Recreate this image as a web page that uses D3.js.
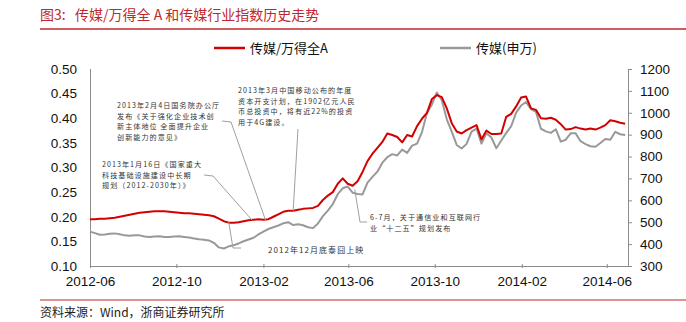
<!DOCTYPE html>
<html><head><meta charset="utf-8">
<script src="https://cdn.jsdelivr.net/npm/d3@7"></script>
<style>
html,body{margin:0;padding:0;background:#fff;}
svg{display:block;}
</style></head>
<body>
<svg id="chart" width="686" height="322"></svg>
<script>
// ---- Data (weekly) ----
const dates = [
"2012-06-01","2012-06-08","2012-06-15","2012-06-22","2012-06-29","2012-07-06","2012-07-13","2012-07-20","2012-07-27","2012-08-03",
"2012-08-10","2012-08-17","2012-08-24","2012-08-31","2012-09-07","2012-09-14","2012-09-21","2012-09-28","2012-10-05","2012-10-12",
"2012-10-19","2012-10-26","2012-11-02","2012-11-09","2012-11-16","2012-11-23","2012-11-30","2012-12-07","2012-12-14","2012-12-21",
"2012-12-28","2013-01-04","2013-01-11","2013-01-18","2013-01-25","2013-02-01","2013-02-08","2013-02-15","2013-02-22","2013-03-01",
"2013-03-08","2013-03-15","2013-03-22","2013-03-29","2013-04-05","2013-04-12","2013-04-19","2013-04-26","2013-05-03","2013-05-10",
"2013-05-17","2013-05-24","2013-05-31","2013-06-07","2013-06-14","2013-06-21","2013-06-28","2013-07-05","2013-07-12","2013-07-19",
"2013-07-26","2013-08-02","2013-08-09","2013-08-16","2013-08-23","2013-08-30","2013-09-06","2013-09-13","2013-09-20","2013-09-27",
"2013-10-04","2013-10-11","2013-10-18","2013-10-25","2013-11-01","2013-11-08","2013-11-15","2013-11-22","2013-11-29","2013-12-06",
"2013-12-13","2013-12-20","2013-12-27","2014-01-03","2014-01-10","2014-01-17","2014-01-24","2014-01-31","2014-02-07","2014-02-14",
"2014-02-21","2014-02-28","2014-03-07","2014-03-14","2014-03-21","2014-03-28","2014-04-04","2014-04-11","2014-04-18","2014-04-25",
"2014-05-02","2014-05-09","2014-05-16","2014-05-23","2014-05-30","2014-06-06","2014-06-13","2014-06-20","2014-06-27"
];
// 传媒/万得全A (left axis)
const ratio = [
0.195,0.195,0.196,0.196,0.197,0.198,0.200,0.202,0.204,0.206,
0.208,0.209,0.210,0.211,0.211,0.211,0.210,0.209,0.208,0.207,
0.207,0.206,0.205,0.204,0.203,0.201,0.196,0.191,0.188,0.188,
0.189,0.191,0.193,0.194,0.195,0.194,0.195,0.200,0.205,0.210,
0.212,0.212,0.214,0.216,0.217,0.218,0.222,0.234,0.243,0.250,
0.267,0.278,0.267,0.263,0.272,0.291,0.313,0.328,0.340,0.352,
0.369,0.366,0.362,0.351,0.366,0.363,0.384,0.399,0.411,0.439,
0.447,0.443,0.420,0.390,0.373,0.369,0.376,0.381,0.386,0.357,
0.375,0.368,0.368,0.369,0.403,0.409,0.424,0.442,0.444,0.420,
0.417,0.400,0.399,0.401,0.397,0.388,0.377,0.378,0.382,0.379,
0.377,0.379,0.377,0.381,0.386,0.396,0.394,0.391,0.389
];
// 传媒(申万) (right axis)
const media = [
457,450,443,444,447,449,445,440,438,440,
440,435,432,435,436,433,432,435,436,433,
430,426,422,420,417,406,385,380,390,395,
403,413,421,429,444,457,469,477,485,495,
500,487,491,486,477,473,494,528,553,583,
628,655,663,635,629,627,681,707,731,772,
797,811,805,832,817,850,859,912,999,1038,
1093,1057,970,914,853,837,858,914,928,859,
906,887,838,873,908,939,1001,1033,1049,1017,
1004,927,915,908,925,868,877,906,906,870,
857,847,845,862,880,877,913,902,898
];
const leftTicks = [0.10,0.15,0.20,0.25,0.30,0.35,0.40,0.45,0.50];
const rightTicks = [300,400,500,600,700,800,900,1000,1100,1200];
const xTickLabels = ["2012-06","2012-10","2013-02","2013-06","2013-10","2014-02","2014-06"];
const seriesNames = ["传媒/万得全A","传媒(申万)"];

// ---- Layout ----
const svg = d3.select("#chart");
const X0 = 90, X1 = 628, Y0 = 69, Y1 = 266;
const parse = d3.timeParse("%Y-%m-%d");
const parseM = d3.timeParse("%Y-%m");
const x = d3.scaleTime().domain([parse("2012-06-01"), parse("2014-07-01")]).range([X0, X1]);
const yL = d3.scaleLinear().domain([0.10, 0.50]).range([Y1, Y0]);
const yR = d3.scaleLinear().domain([300, 1200]).range([Y1, Y0]);
const RED = "#d40000", GRAY = "#999999", AX = "#8c8c8c", TITLE = "#c0282d";
const sans = "'Liberation Sans', Arial, sans-serif";
const cjk = "'Noto Sans CJK SC', sans-serif";

// Title
svg.append("text").attr("x", 40).attr("y", 20).attr("fill", TITLE)
  .attr("font-family", cjk).attr("font-size", 14).style("white-space", "pre")
  .text("图3:   传媒/万得全 A 和传媒行业指数历史走势");
svg.append("line").attr("x1", 40).attr("x2", 686).attr("y1", 29).attr("y2", 29)
  .attr("stroke", TITLE).attr("stroke-width", 1.5);

// Legend
const legend = [{name: seriesNames[0], color: RED, x: 214}, {name: seriesNames[1], color: GRAY, x: 440}];
legend.forEach(l => {
  svg.append("line").attr("x1", l.x).attr("x2", l.x + 31).attr("y1", 48).attr("y2", 48)
    .attr("stroke", l.color).attr("stroke-width", 2.5);
  svg.append("text").attr("x", l.x + 36).attr("y", 53).attr("font-family", cjk)
    .attr("font-size", 13).attr("fill", "#111").text(l.name);
});

// Axes
const gL = svg.append("g").attr("transform", `translate(${X0},0)`)
  .call(d3.axisLeft(yL).tickValues(leftTicks).tickFormat(d3.format(".2f")).tickSize(0).tickPadding(13));
const gR = svg.append("g").attr("transform", `translate(${X1},0)`)
  .call(d3.axisRight(yR).tickValues(rightTicks).tickFormat(d3.format("d")).tickSize(4).tickPadding(8));
const gX = svg.append("g").attr("transform", `translate(0,${Y1})`)
  .call(d3.axisBottom(x).tickValues(xTickLabels.map(parseM)).tickFormat(d3.timeFormat("%Y-%m")).tickSize(2).tickPadding(8));
[gL, gR, gX].forEach(g => {
  g.select(".domain").attr("stroke", AX).attr("stroke-width", 1);
  g.selectAll(".tick line").attr("stroke", AX);
  g.selectAll(".tick text").attr("font-family", sans).attr("font-size", 13.5).attr("fill", "#111");
});
gX.selectAll(".tick line").attr("y1", -2).attr("y2", 2);
gX.select(".domain").attr("d", `M${X0},0.5H${X1}`);
gL.select(".domain").attr("d", `M0.5,${Y1}V${Y0}`);
gR.select(".domain").attr("d", `M0.5,${Y1}V${Y0}`);

// Lines
const data = dates.map((d, i) => ({date: parse(d), r: ratio[i], m: media[i]}));
svg.append("path").datum(data).attr("fill", "none").attr("stroke", GRAY).attr("stroke-width", 2)
  .attr("stroke-linejoin", "round")
  .attr("d", d3.line().x(d => x(d.date)).y(d => yR(d.m)));
svg.append("path").datum(data).attr("fill", "none").attr("stroke", RED).attr("stroke-width", 2)
  .attr("stroke-linejoin", "round")
  .attr("d", d3.line().x(d => x(d.date)).y(d => yL(d.r)));

// Annotations
const annots = [
  {lines: ["2013年2月4日国务院办公厅", "发布《关于强化企业技术创", "新主体地位 全面提升企业", "创新能力的意见》"],
   tx: 117, ty: 108, fs: 7.1, path: [[222, 121], [231, 122], [x(parse("2013-02-04")), yL(0.195) + 1]]},
  {lines: ["2013年1月16日《国家重大", "科技基础设施建设中长期", "规划（2012-2030年）》"],
   tx: 102, ty: 167, fs: 7.1, path: [[204, 175], [213, 176], [x(parse("2013-01-16")), yL(0.193)]]},
  {lines: ["2013年3月中国移动公布的年度", "资本开支计划，在1902亿元人民", "币总投资中，将有近22%的投资", "用于4G建设。"],
   tx: 238, ty: 93, fs: 7.1, path: [[298, 129], [x(parse("2013-03-15")), yL(0.212)]]},
  {lines: ["2012年12月底泰囧上映"],
   tx: 268, ty: 253, fs: 8, path: [[x(parse("2012-12-14")), yL(0.189)], [233, 248], [241, 248]]},
  {lines: ["6-7月，关于通信业和互联网行", "业“十二五”规划发布"],
   tx: 370, ty: 220, fs: 7.1, path: [[x(parse("2013-06-10")), yR(650)], [360, 222], [367, 222]]}
];
annots.forEach(a => {
  svg.append("path").attr("d", d3.line()(a.path)).attr("fill", "none")
    .attr("stroke", "#a0a0a0").attr("stroke-width", 1);
  const t = svg.append("text").attr("font-family", cjk).attr("font-size", a.fs)
    .attr("letter-spacing", 1.05).attr("fill", "#333");
  a.lines.forEach((s, i) => t.append("tspan").attr("x", a.tx).attr("y", a.ty + i * 10.5).text(s));
});

// Source
svg.append("line").attr("x1", 40).attr("x2", 686).attr("y1", 300).attr("y2", 300)
  .attr("stroke", TITLE).attr("stroke-width", 1.2);
svg.append("text").attr("x", 40).attr("y", 317).attr("font-family", cjk).attr("font-size", 12)
  .attr("fill", "#222").text("资料来源：Wind，浙商证券研究所");
</script>
</body></html>
